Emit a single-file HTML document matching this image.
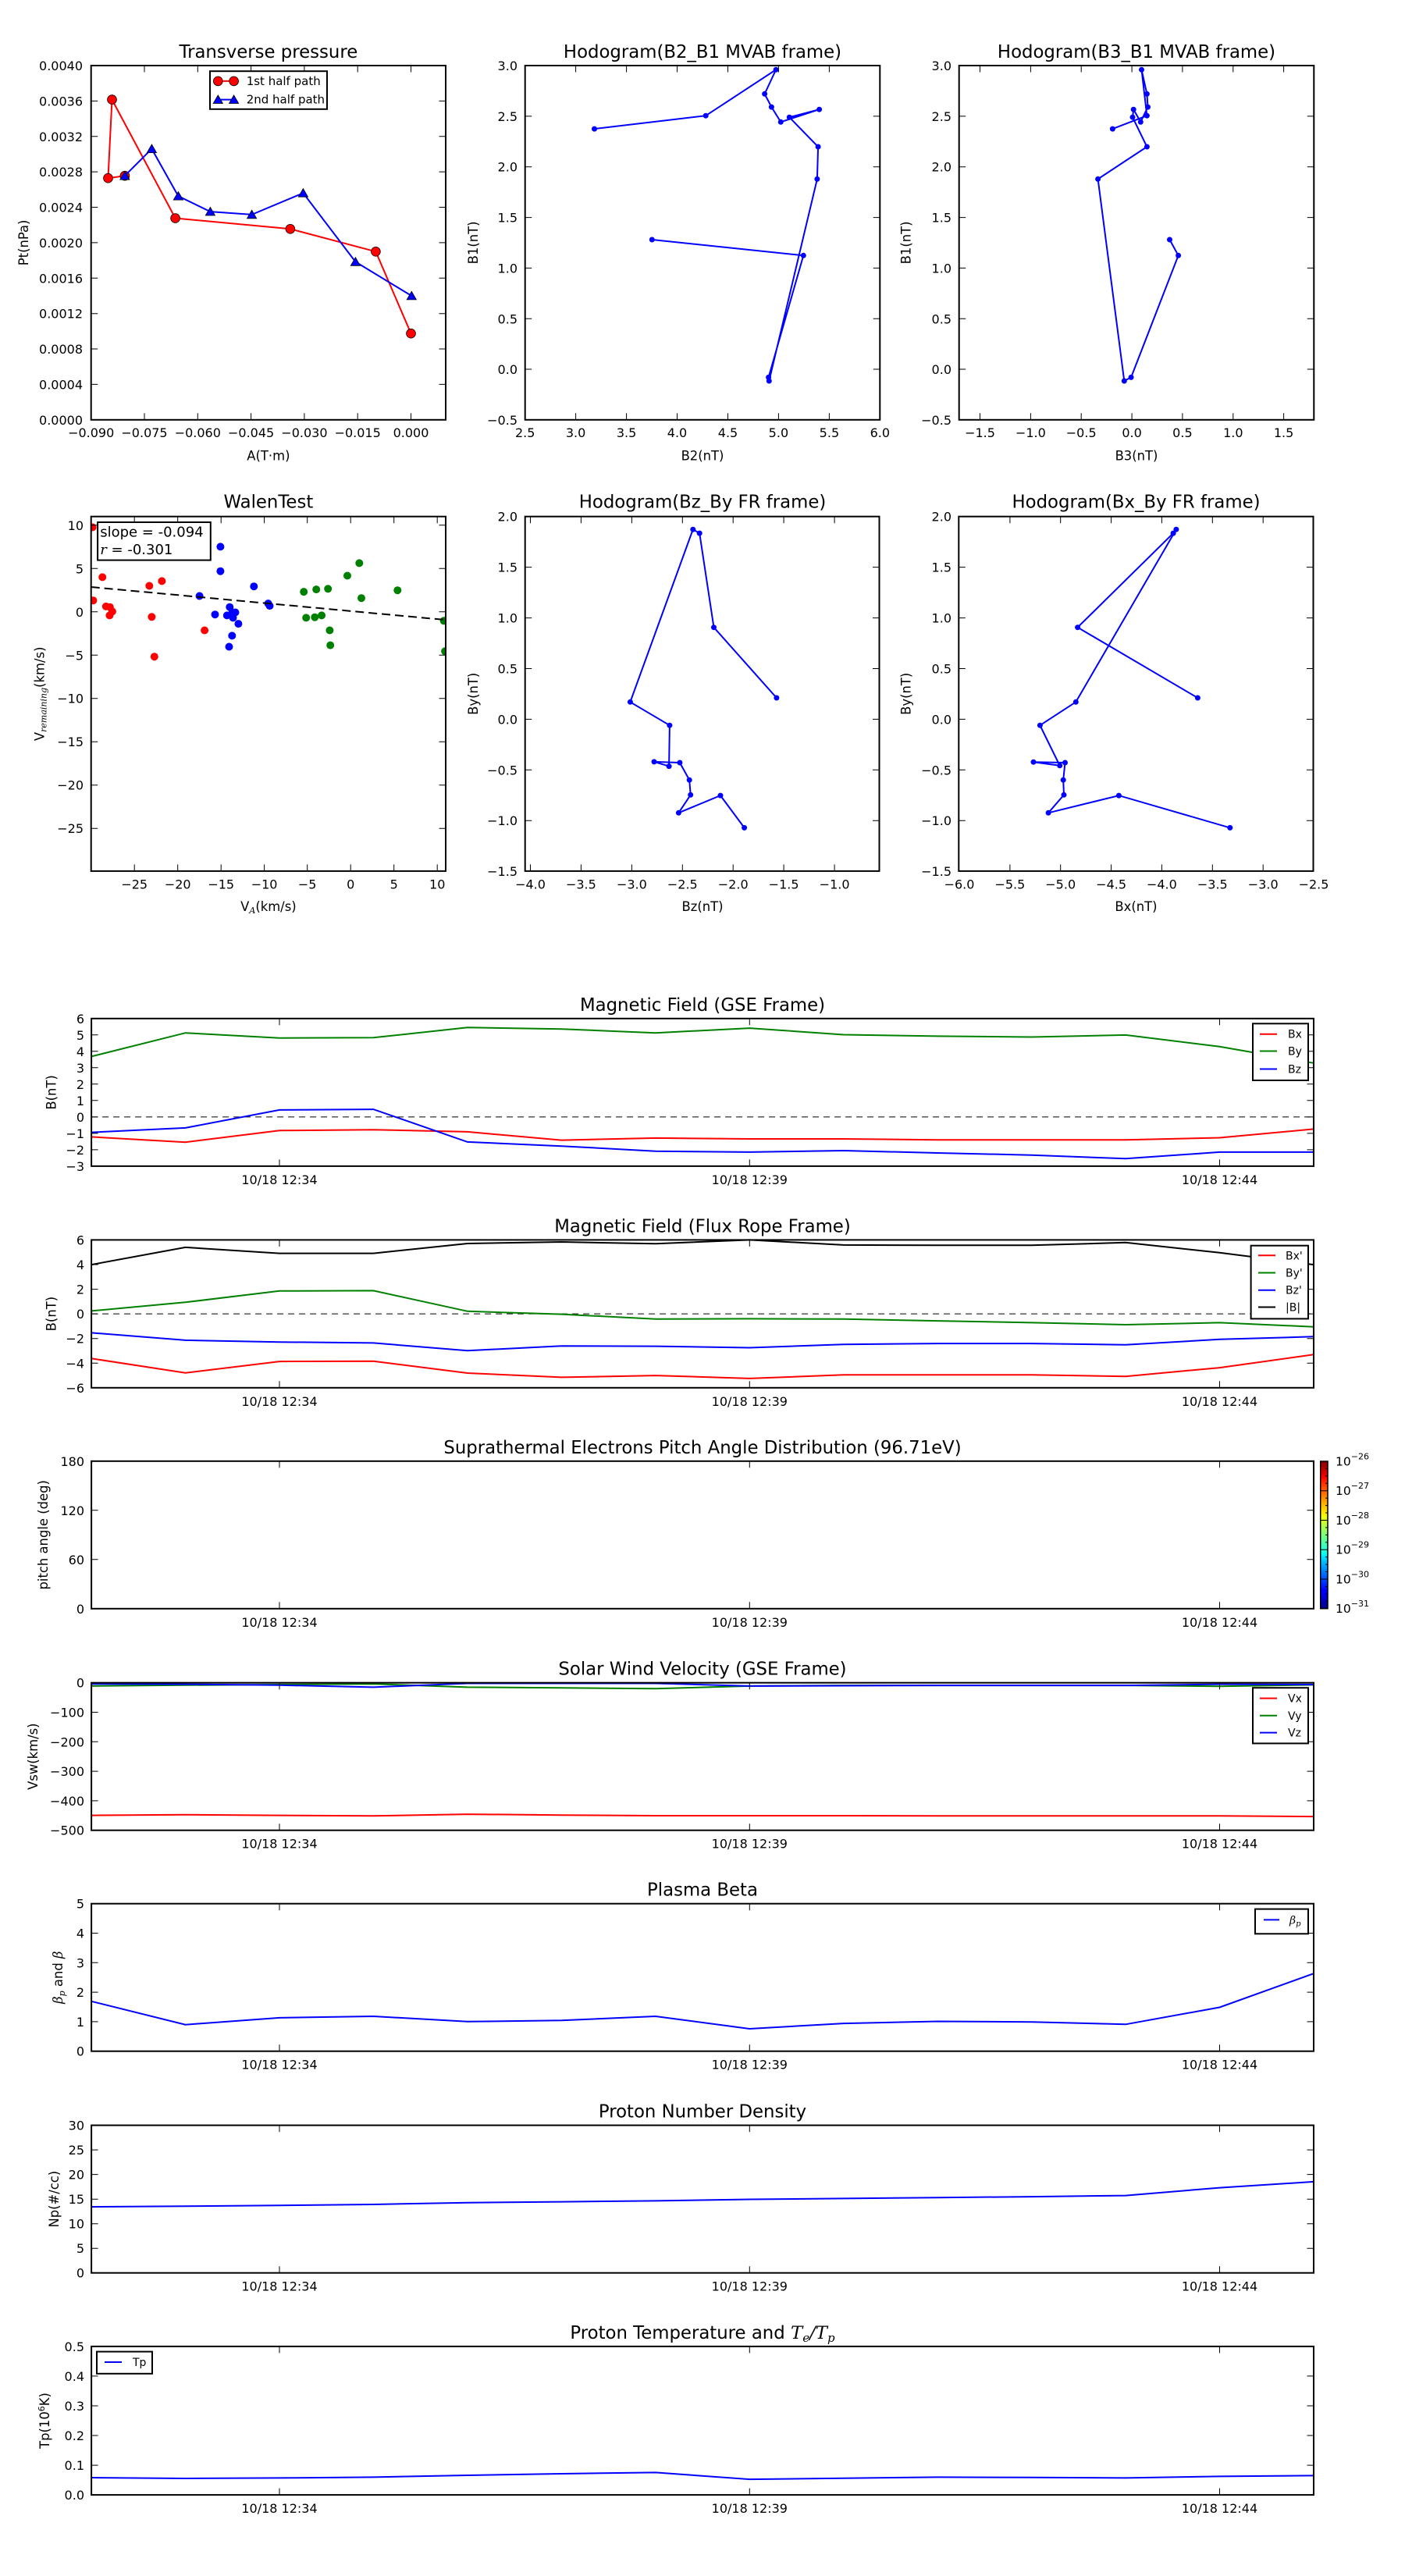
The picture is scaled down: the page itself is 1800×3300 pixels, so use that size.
<!DOCTYPE html>
<html><head><meta charset="utf-8"><style>
html,body{margin:0;padding:0;background:#fff;}
svg{display:block;}
text{font-family:"DejaVu Sans","Liberation Sans",sans-serif;fill:#000;}
.ax{fill:none;stroke:#000;stroke-width:2;}
.tk{fill:none;stroke:#000;stroke-width:1;}
.tl{font-size:16px;}
.m{text-anchor:middle;}
.e{text-anchor:end;}
.tt{font-size:22.8px;text-anchor:middle;}
.lb{font-size:16.4px;text-anchor:middle;}
.lg{font-size:14px;}
.mi{font-family:"DejaVu Serif","Liberation Serif",serif;font-style:italic;}
</style></head><body>
<svg width="1800" height="3300" viewBox="0 0 1800 3300" xmlns="http://www.w3.org/2000/svg">
<defs>
<marker id="rc" markerUnits="userSpaceOnUse" markerWidth="14" markerHeight="14" refX="7" refY="7"><circle cx="7" cy="7" r="5.9" fill="#ff0000" stroke="#000" stroke-width="0.8"/></marker>
<marker id="bt" markerUnits="userSpaceOnUse" markerWidth="14" markerHeight="14" refX="7" refY="7"><path d="M7 1.3L13.1 11.9L0.9 11.9Z" fill="#0000ff" stroke="#000" stroke-width="0.8"/></marker>
<marker id="bd" markerUnits="userSpaceOnUse" markerWidth="8" markerHeight="8" refX="4" refY="4"><circle cx="4" cy="4" r="3.5" fill="#0000ff"/></marker>
<clipPath id="cw"><rect x="116.7" y="661.7" width="454.3" height="454.2"/></clipPath>
<linearGradient id="jet" x1="0" y1="1" x2="0" y2="0">
<stop offset="0" stop-color="#000080"/><stop offset="0.11" stop-color="#0000ff"/><stop offset="0.125" stop-color="#0000ff"/><stop offset="0.35" stop-color="#00e0ff"/><stop offset="0.375" stop-color="#10ffee"/><stop offset="0.5" stop-color="#7dff7a"/><stop offset="0.625" stop-color="#eeff10"/><stop offset="0.66" stop-color="#ffe000"/><stop offset="0.875" stop-color="#ff1800"/><stop offset="0.89" stop-color="#ff0000"/><stop offset="1" stop-color="#800000"/>
</linearGradient>
</defs>
<rect width="1800" height="3300" fill="#fff"/>

<!-- ===== Panel 1: Transverse pressure ===== -->
<text class="tt" x="343.9" y="74">Transverse pressure</text>
<polyline points="159.9,225.2 138.5,228.2 143.5,127.6 224.6,279.5 371.9,293.3 481.4,322.3 526.5,427.2" fill="none" stroke="#ff0000" stroke-width="2" marker-start="url(#rc)" marker-mid="url(#rc)" marker-end="url(#rc)"/>
<polyline points="159.9,225.2 194.4,190.7 228.4,251.2 269.4,271.1 322.6,274.9 388.4,247.3 455.4,335.4 527.3,379.0" fill="none" stroke="#0000ff" stroke-width="2" marker-start="url(#bt)" marker-mid="url(#bt)" marker-end="url(#bt)"/>
<path class="tk" d="M116.7 537.8v-8.5M185 537.8v-8.5M253.3 537.8v-8.5M321.6 537.8v-8.5M389.9 537.8v-8.5M458.2 537.8v-8.5M526.5 537.8v-8.5M116.7 84v8.5M185 84v8.5M253.3 84v8.5M321.6 84v8.5M389.9 84v8.5M458.2 84v8.5M526.5 84v8.5M116.7 492.4h8.5M571 492.4h-8.5M116.7 447h8.5M571 447h-8.5M116.7 401.7h8.5M571 401.7h-8.5M116.7 356.3h8.5M571 356.3h-8.5M116.7 310.9h8.5M571 310.9h-8.5M116.7 265.5h8.5M571 265.5h-8.5M116.7 220.1h8.5M571 220.1h-8.5M116.7 174.8h8.5M571 174.8h-8.5M116.7 129.4h8.5M571 129.4h-8.5"/>
<rect class="ax" x="116.7" y="84" width="454.3" height="453.8"/>
<rect x="269" y="91.2" width="150" height="48.6" fill="#fff" stroke="#000" stroke-width="2"/>
<polyline points="279.3,103.9 299.6,103.9" fill="none" stroke="#ff0000" stroke-width="2" marker-start="url(#rc)" marker-end="url(#rc)"/>
<polyline points="279.3,127.6 299.6,127.6" fill="none" stroke="#0000ff" stroke-width="2" marker-start="url(#bt)" marker-end="url(#bt)"/>
<text x="315.7" y="109.2" style="font-size:15px">1st half path</text>
<text x="315.7" y="132.6" style="font-size:15px">2nd half path</text>
<g class="tl m">
<text x="116.7" y="560">−0.090</text><text x="185" y="560">−0.075</text><text x="253.3" y="560">−0.060</text><text x="321.6" y="560">−0.045</text><text x="389.9" y="560">−0.030</text><text x="458.2" y="560">−0.015</text><text x="526.5" y="560">0.000</text>
</g>
<g class="tl e">
<text x="106" y="543.8">0.0000</text><text x="106" y="498.4">0.0004</text><text x="106" y="453">0.0008</text><text x="106" y="407.7">0.0012</text><text x="106" y="362.3">0.0016</text><text x="106" y="316.9">0.0020</text><text x="106" y="271.5">0.0024</text><text x="106" y="226.1">0.0028</text><text x="106" y="180.8">0.0032</text><text x="106" y="135.4">0.0036</text><text x="106" y="90">0.0040</text>
</g>
<text class="lb" transform="translate(36,310.9) rotate(-90)">Pt(nPa)</text>
<text class="lb" x="343.9" y="589.4">A(T·m)</text>

<!-- ===== Panel 2: Hodogram B2_B1 ===== -->
<text class="tt" x="900" y="74">Hodogram(B2_B1 MVAB frame)</text>
<polyline points="761.5,165.1 904.2,148.2 994.1,89.3 979.6,120.3 988.4,137.1 1000.3,156.3 1049.6,140.2 1011.3,150.2 1048.1,188.0 1046.9,229.4 985.3,488.0 984.6,483.4 1029.3,327.3 835.3,307.0" fill="none" stroke="#0000ff" stroke-width="2" marker-start="url(#bd)" marker-mid="url(#bd)" marker-end="url(#bd)"/>
<path class="tk" d="M672.7 537.8v-8.5M737.6 537.8v-8.5M802.6 537.8v-8.5M867.5 537.8v-8.5M932.5 537.8v-8.5M997.4 537.8v-8.5M1062.4 537.8v-8.5M737.6 84v8.5M802.6 84v8.5M867.5 84v8.5M932.5 84v8.5M997.4 84v8.5M1062.4 84v8.5M672.7 148.9h8.5M1127.3 148.9h-8.5M672.7 213.7h8.5M1127.3 213.7h-8.5M672.7 278.6h8.5M1127.3 278.6h-8.5M672.7 343.4h8.5M1127.3 343.4h-8.5M672.7 408.3h8.5M1127.3 408.3h-8.5M672.7 473h8.5M1127.3 473h-8.5"/>
<rect class="ax" x="672.7" y="84" width="454.6" height="453.8"/>
<g class="tl m">
<text x="672.7" y="560">2.5</text><text x="737.6" y="560">3.0</text><text x="802.6" y="560">3.5</text><text x="867.5" y="560">4.0</text><text x="932.5" y="560">4.5</text><text x="997.4" y="560">5.0</text><text x="1062.4" y="560">5.5</text><text x="1127.3" y="560">6.0</text>
</g>
<g class="tl e">
<text x="663" y="90">3.0</text><text x="663" y="154.9">2.5</text><text x="663" y="219.7">2.0</text><text x="663" y="284.6">1.5</text><text x="663" y="349.4">1.0</text><text x="663" y="414.3">0.5</text><text x="663" y="479">0.0</text><text x="663" y="543.8">−0.5</text>
</g>
<text class="lb" transform="translate(612,310.9) rotate(-90)">B1(nT)</text>
<text class="lb" x="900" y="589.4">B2(nT)</text>

<!-- ===== Panel 3: Hodogram B3_B1 ===== -->
<text class="tt" x="1456" y="74">Hodogram(B3_B1 MVAB frame)</text>
<polyline points="1425.4,165.1 1469.4,148.2 1462.5,89.3 1469.4,120.3 1470.5,137.1 1461.3,156.3 1452.2,140.2 1451.0,150.2 1469.4,188.0 1406.6,229.4 1440.3,488.0 1449.1,483.4 1509.6,327.3 1498.5,307.0" fill="none" stroke="#0000ff" stroke-width="2" marker-start="url(#bd)" marker-mid="url(#bd)" marker-end="url(#bd)"/>
<path class="tk" d="M1255.5 537.8v-8.5M1320.4 537.8v-8.5M1385.2 537.8v-8.5M1450.1 537.8v-8.5M1514.9 537.8v-8.5M1579.8 537.8v-8.5M1644.6 537.8v-8.5M1255.5 84v8.5M1320.4 84v8.5M1385.2 84v8.5M1450.1 84v8.5M1514.9 84v8.5M1579.8 84v8.5M1644.6 84v8.5M1228.7 148.9h8.5M1683.3 148.9h-8.5M1228.7 213.7h8.5M1683.3 213.7h-8.5M1228.7 278.6h8.5M1683.3 278.6h-8.5M1228.7 343.4h8.5M1683.3 343.4h-8.5M1228.7 408.3h8.5M1683.3 408.3h-8.5M1228.7 473h8.5M1683.3 473h-8.5"/>
<rect class="ax" x="1228.7" y="84" width="454.6" height="453.8"/>
<g class="tl m">
<text x="1255.5" y="560">−1.5</text><text x="1320.4" y="560">−1.0</text><text x="1385.2" y="560">−0.5</text><text x="1450.1" y="560">0.0</text><text x="1514.9" y="560">0.5</text><text x="1579.8" y="560">1.0</text><text x="1644.6" y="560">1.5</text>
</g>
<g class="tl e">
<text x="1219" y="90">3.0</text><text x="1219" y="154.9">2.5</text><text x="1219" y="219.7">2.0</text><text x="1219" y="284.6">1.5</text><text x="1219" y="349.4">1.0</text><text x="1219" y="414.3">0.5</text><text x="1219" y="479">0.0</text><text x="1219" y="543.8">−0.5</text>
</g>
<text class="lb" transform="translate(1166.5,310.9) rotate(-90)">B1(nT)</text>
<text class="lb" x="1456" y="589.4">B3(nT)</text>

<!-- ===== Panel 4: WalenTest ===== -->
<text class="tt" x="343.9" y="650.6">WalenTest</text>
<g clip-path="url(#cw)">
<g fill="#ff0000">
<circle cx="118.6" cy="675.5" r="5"/><circle cx="119.4" cy="769.2" r="5"/><circle cx="131.2" cy="739.4" r="5"/><circle cx="135.8" cy="776.9" r="5"/><circle cx="140.8" cy="777.7" r="5"/><circle cx="143.9" cy="783.4" r="5"/><circle cx="140.4" cy="788.4" r="5"/><circle cx="191.3" cy="750.5" r="5"/><circle cx="194.4" cy="790.3" r="5"/><circle cx="197.8" cy="841.2" r="5"/><circle cx="207.4" cy="744.4" r="5"/><circle cx="262.1" cy="807.5" r="5"/>
</g>
<g fill="#0000ff">
<circle cx="282.4" cy="700.4" r="5"/><circle cx="282.4" cy="731.7" r="5"/><circle cx="255.6" cy="763.5" r="5"/><circle cx="275.5" cy="787.2" r="5"/><circle cx="294.3" cy="777.7" r="5"/><circle cx="290.8" cy="788.4" r="5"/><circle cx="297.7" cy="784.5" r="5"/><circle cx="301.5" cy="784.5" r="5"/><circle cx="298.5" cy="791.4" r="5"/><circle cx="305.4" cy="799.1" r="5"/><circle cx="297.3" cy="814.4" r="5"/><circle cx="293.5" cy="828.5" r="5"/><circle cx="325.3" cy="751.2" r="5"/><circle cx="343.6" cy="773.1" r="5"/><circle cx="345.5" cy="776.1" r="5"/>
</g>
<g fill="#008000">
<circle cx="389.2" cy="758.1" r="5"/><circle cx="405.2" cy="755.1" r="5"/><circle cx="420.2" cy="754.3" r="5"/><circle cx="445" cy="737.5" r="5"/><circle cx="460.3" cy="721.4" r="5"/><circle cx="463" cy="766.2" r="5"/><circle cx="509.3" cy="756.2" r="5"/><circle cx="392.2" cy="791.4" r="5"/><circle cx="403.3" cy="790.7" r="5"/><circle cx="412.1" cy="788.4" r="5"/><circle cx="422.4" cy="807.5" r="5"/><circle cx="423.2" cy="826.6" r="5"/><circle cx="568.6" cy="795.3" r="5"/><circle cx="570.1" cy="834.3" r="5"/>
</g>
<line x1="116.7" y1="752" x2="571" y2="794.1" stroke="#000" stroke-width="2" stroke-dasharray="11,6"/>
</g>
<path class="tk" d="M172.2 1115.9v-8.5M227.7 1115.9v-8.5M283.2 1115.9v-8.5M338.6 1115.9v-8.5M393.7 1115.9v-8.5M449.2 1115.9v-8.5M504.7 1115.9v-8.5M560.2 1115.9v-8.5M172.2 661.7v8.5M227.7 661.7v8.5M283.2 661.7v8.5M338.6 661.7v8.5M393.7 661.7v8.5M449.2 661.7v8.5M504.7 661.7v8.5M560.2 661.7v8.5M116.7 672.8h8.5M571 672.8h-8.5M116.7 728.3h8.5M571 728.3h-8.5M116.7 783.8h8.5M571 783.8h-8.5M116.7 839.3h8.5M571 839.3h-8.5M116.7 894.7h8.5M571 894.7h-8.5M116.7 950.2h8.5M571 950.2h-8.5M116.7 1005.7h8.5M571 1005.7h-8.5M116.7 1061.2h8.5M571 1061.2h-8.5"/>
<rect class="ax" x="116.7" y="661.7" width="454.3" height="454.2"/>
<rect x="125.1" y="669" width="144.7" height="48.6" fill="#fff" stroke="#000" stroke-width="2"/>
<text x="128.2" y="687.7" style="font-size:18px">slope = -0.094</text>
<text x="128.2" y="709.9" style="font-size:18px"><tspan class="mi">r</tspan> = -0.301</text>
<g class="tl m">
<text x="172.2" y="1138.5">−25</text><text x="227.7" y="1138.5">−20</text><text x="283.2" y="1138.5">−15</text><text x="338.6" y="1138.5">−10</text><text x="393.7" y="1138.5">−5</text><text x="449.2" y="1138.5">0</text><text x="504.7" y="1138.5">5</text><text x="560.2" y="1138.5">10</text>
</g>
<g class="tl e">
<text x="107" y="678.8">10</text><text x="107" y="734.3">5</text><text x="107" y="789.8">0</text><text x="107" y="845.3">−5</text><text x="107" y="900.7">−10</text><text x="107" y="956.2">−15</text><text x="107" y="1011.7">−20</text><text x="107" y="1067.2">−25</text>
</g>
<text class="lb" transform="translate(56.6,888.8) rotate(-90)">V<tspan class="mi" style="font-size:11px" dy="3">remaining</tspan><tspan dy="-3">(km/s)</tspan></text>
<text class="lb" x="343.9" y="1167.2">V<tspan class="mi" style="font-size:11px" dy="3">A</tspan><tspan dy="-3">(km/s)</tspan></text>

<!-- ===== Panel 5: Hodogram Bz_By FR ===== -->
<text class="tt" x="900" y="650.6">Hodogram(Bz_By FR frame)</text>
<polyline points="994.9,894.0 914.5,803.7 896.2,683.1 887.8,678.2 807.4,899.3 857.9,929.2 857.1,981.6 838.0,975.9 870.9,977.0 883.2,999.2 884.7,1018.3 869.4,1041.3 923.0,1019.1 953.6,1060.4" fill="none" stroke="#0000ff" stroke-width="2" marker-start="url(#bd)" marker-mid="url(#bd)" marker-end="url(#bd)"/>
<path class="tk" d="M679.5 1115.9v-8.5M744.4 1115.9v-8.5M809.4 1115.9v-8.5M874.3 1115.9v-8.5M939.2 1115.9v-8.5M1004.1 1115.9v-8.5M1069.1 1115.9v-8.5M679.5 661.7v8.5M744.4 661.7v8.5M809.4 661.7v8.5M874.3 661.7v8.5M939.2 661.7v8.5M1004.1 661.7v8.5M1069.1 661.7v8.5M672.7 726.6h8.5M1126.5 726.6h-8.5M672.7 791.6h8.5M1126.5 791.6h-8.5M672.7 856.5h8.5M1126.5 856.5h-8.5M672.7 921.4h8.5M1126.5 921.4h-8.5M672.7 986.3h8.5M1126.5 986.3h-8.5M672.7 1051.2h8.5M1126.5 1051.2h-8.5"/>
<rect class="ax" x="672.7" y="661.7" width="453.8" height="454.2"/>
<g class="tl m">
<text x="679.5" y="1138.5">−4.0</text><text x="744.4" y="1138.5">−3.5</text><text x="809.4" y="1138.5">−3.0</text><text x="874.3" y="1138.5">−2.5</text><text x="939.2" y="1138.5">−2.0</text><text x="1004.1" y="1138.5">−1.5</text><text x="1069.1" y="1138.5">−1.0</text>
</g>
<g class="tl e">
<text x="663" y="667.7">2.0</text><text x="663" y="732.6">1.5</text><text x="663" y="797.6">1.0</text><text x="663" y="862.5">0.5</text><text x="663" y="927.4">0.0</text><text x="663" y="992.3">−0.5</text><text x="663" y="1057.2">−1.0</text><text x="663" y="1122">−1.5</text>
</g>
<text class="lb" transform="translate(612,888.8) rotate(-90)">By(nT)</text>
<text class="lb" x="900" y="1167.2">Bz(nT)</text>

<!-- ===== Panel 6: Hodogram Bx_By FR ===== -->
<text class="tt" x="1455.5" y="650.6">Hodogram(Bx_By FR frame)</text>
<polyline points="1534.4,894.0 1380.6,803.7 1503.1,683.1 1506.9,678.2 1378.3,899.3 1332.4,929.2 1357.7,980.8 1324.0,976.2 1364.5,977.0 1362.2,999.2 1363.0,1018.3 1343.1,1041.3 1433.4,1019.1 1575.8,1060.4" fill="none" stroke="#0000ff" stroke-width="2" marker-start="url(#bd)" marker-mid="url(#bd)" marker-end="url(#bd)"/>
<path class="tk" d="M1293.9 1115.9v-8.5M1358.7 1115.9v-8.5M1423.6 1115.9v-8.5M1488.4 1115.9v-8.5M1553.3 1115.9v-8.5M1618.2 1115.9v-8.5M1293.9 661.7v8.5M1358.7 661.7v8.5M1423.6 661.7v8.5M1488.4 661.7v8.5M1553.3 661.7v8.5M1618.2 661.7v8.5M1228.3 726.6h8.5M1682.5 726.6h-8.5M1228.3 791.6h8.5M1682.5 791.6h-8.5M1228.3 856.5h8.5M1682.5 856.5h-8.5M1228.3 921.4h8.5M1682.5 921.4h-8.5M1228.3 986.3h8.5M1682.5 986.3h-8.5M1228.3 1051.2h8.5M1682.5 1051.2h-8.5"/>
<rect class="ax" x="1228.3" y="661.7" width="454.2" height="454.2"/>
<g class="tl m">
<text x="1229" y="1138.5">−6.0</text><text x="1293.9" y="1138.5">−5.5</text><text x="1358.7" y="1138.5">−5.0</text><text x="1423.6" y="1138.5">−4.5</text><text x="1488.4" y="1138.5">−4.0</text><text x="1553.3" y="1138.5">−3.5</text><text x="1618.2" y="1138.5">−3.0</text><text x="1683" y="1138.5">−2.5</text>
</g>
<g class="tl e">
<text x="1219" y="667.7">2.0</text><text x="1219" y="732.6">1.5</text><text x="1219" y="797.6">1.0</text><text x="1219" y="862.5">0.5</text><text x="1219" y="927.4">0.0</text><text x="1219" y="992.3">−0.5</text><text x="1219" y="1057.2">−1.0</text><text x="1219" y="1122">−1.5</text>
</g>
<text class="lb" transform="translate(1166.5,888.8) rotate(-90)">By(nT)</text>
<text class="lb" x="1455.5" y="1167.2">Bx(nT)</text>

<!-- ===== TS1: Magnetic Field GSE ===== -->
<text class="tt" x="900" y="1294.8">Magnetic Field (GSE Frame)</text>
<line x1="117.1" y1="1430.9" x2="1683" y2="1430.9" stroke="#000" stroke-width="1" stroke-dasharray="8,6"/>
<polyline fill="none" stroke="#ff0000" stroke-width="2" points="117.1,1456.4 237.5,1463.2 358.0,1448.3 478.4,1447.2 598.9,1449.9 719.4,1460.6 839.8,1457.9 960.3,1459.0 1080.7,1459.0 1201.2,1460.2 1321.6,1460.2 1442.1,1460.2 1562.5,1457.5 1683.0,1446.4"/>
<polyline fill="none" stroke="#008000" stroke-width="2" points="117.1,1353.4 237.5,1323.2 358.0,1329.7 478.4,1329.3 598.9,1316.3 719.4,1318.2 839.8,1323.2 960.3,1317.1 1080.7,1325.5 1201.2,1327.4 1321.6,1328.5 1442.1,1325.9 1562.5,1340.8 1683.0,1361.8"/>
<polyline fill="none" stroke="#0000ff" stroke-width="2" points="117.1,1450.6 237.5,1444.9 358.0,1421.9 478.4,1421.1 598.9,1462.9 719.4,1468.2 839.8,1474.7 960.3,1475.9 1080.7,1474.0 1201.2,1477.0 1321.6,1479.7 1442.1,1484.3 1562.5,1475.9 1683.0,1475.9"/>
<path class="tk" d="M358 1493.9v-8.5M960.3 1493.9v-8.5M1562.5 1493.9v-8.5M358 1304.8v8.5M960.3 1304.8v8.5M1562.5 1304.8v8.5M117.1 1325.8h8.5M1683 1325.8h-8.5M117.1 1346.8h8.5M1683 1346.8h-8.5M117.1 1367.8h8.5M1683 1367.8h-8.5M117.1 1388.8h8.5M1683 1388.8h-8.5M117.1 1409.8h8.5M1683 1409.8h-8.5M117.1 1430.9h8.5M1683 1430.9h-8.5M117.1 1451.9h8.5M1683 1451.9h-8.5M117.1 1472.9h8.5M1683 1472.9h-8.5"/>
<rect class="ax" x="117.1" y="1304.8" width="1565.9" height="189.1"/>
<rect x="1605" y="1311.3" width="71" height="72.7" fill="#fff" stroke="#000" stroke-width="2"/>
<line x1="1614" y1="1324.7" x2="1636" y2="1324.7" stroke="#ff0000" stroke-width="2"/>
<line x1="1614" y1="1346.5" x2="1636" y2="1346.5" stroke="#008000" stroke-width="2"/>
<line x1="1614" y1="1369.5" x2="1636" y2="1369.5" stroke="#0000ff" stroke-width="2"/>
<text class="lg" x="1650" y="1329.7">Bx</text><text class="lg" x="1650" y="1351.5">By</text><text class="lg" x="1650" y="1374.5">Bz</text>
<g class="tl m"><text x="358" y="1516.9">10/18 12:34</text><text x="960.3" y="1516.9">10/18 12:39</text><text x="1562.5" y="1516.9">10/18 12:44</text></g>
<g class="tl e">
<text x="108" y="1310.8">6</text><text x="108" y="1331.8">5</text><text x="108" y="1352.8">4</text><text x="108" y="1373.8">3</text><text x="108" y="1394.8">2</text><text x="108" y="1415.8">1</text><text x="108" y="1436.9">0</text><text x="108" y="1457.9">−1</text><text x="108" y="1478.9">−2</text><text x="108" y="1499.9">−3</text>
</g>
<text class="lb" transform="translate(71.5,1399.4) rotate(-90)">B(nT)</text>

<!-- ===== TS2: Magnetic Field Flux Rope ===== -->
<text class="tt" x="900" y="1578.4">Magnetic Field (Flux Rope Frame)</text>
<line x1="117.1" y1="1683.1" x2="1683" y2="1683.1" stroke="#000" stroke-width="1" stroke-dasharray="8,6"/>
<polyline fill="none" stroke="#ff0000" stroke-width="2" points="117.1,1740.3 237.5,1758.7 358.0,1744.1 478.4,1743.7 598.9,1759.0 719.4,1764.4 839.8,1762.1 960.3,1765.9 1080.7,1761.3 1201.2,1761.3 1321.6,1761.3 1442.1,1763.2 1562.5,1752.1 1683.0,1735.3"/>
<polyline fill="none" stroke="#008000" stroke-width="2" points="117.1,1679.4 237.5,1668.3 358.0,1653.8 478.4,1653.4 598.9,1679.8 719.4,1683.6 839.8,1689.8 960.3,1689.4 1080.7,1689.8 1201.2,1692.1 1321.6,1694.4 1442.1,1697.0 1562.5,1694.4 1683.0,1699.7"/>
<polyline fill="none" stroke="#0000ff" stroke-width="2" points="117.1,1707.4 237.5,1716.9 358.0,1719.2 478.4,1720.4 598.9,1730.3 719.4,1724.2 839.8,1724.6 960.3,1726.5 1080.7,1722.3 1201.2,1721.1 1321.6,1721.1 1442.1,1722.7 1562.5,1715.8 1683.0,1712.3"/>
<polyline fill="none" stroke="#000" stroke-width="2" points="117.1,1620.1 237.5,1597.9 358.0,1605.6 478.4,1605.6 598.9,1593.0 719.4,1591.0 839.8,1593.3 960.3,1588.4 1080.7,1594.9 1201.2,1595.3 1321.6,1595.3 1442.1,1591.8 1562.5,1604.8 1683.0,1620.1"/>
<path class="tk" d="M358 1777.8v-8.5M960.3 1777.8v-8.5M1562.5 1777.8v-8.5M358 1588.4v8.5M960.3 1588.4v8.5M1562.5 1588.4v8.5M117.1 1620h8.5M1683 1620h-8.5M117.1 1651.6h8.5M1683 1651.6h-8.5M117.1 1683.1h8.5M1683 1683.1h-8.5M117.1 1714.7h8.5M1683 1714.7h-8.5M117.1 1746.3h8.5M1683 1746.3h-8.5"/>
<rect class="ax" x="117.1" y="1588.4" width="1565.9" height="189.4"/>
<rect x="1602.6" y="1595.7" width="73.4" height="93.7" fill="#fff" stroke="#000" stroke-width="2"/>
<line x1="1612" y1="1608.3" x2="1634" y2="1608.3" stroke="#ff0000" stroke-width="2"/>
<line x1="1612" y1="1630.5" x2="1634" y2="1630.5" stroke="#008000" stroke-width="2"/>
<line x1="1612" y1="1652.7" x2="1634" y2="1652.7" stroke="#0000ff" stroke-width="2"/>
<line x1="1612" y1="1674.5" x2="1634" y2="1674.5" stroke="#000" stroke-width="2"/>
<text class="lg" x="1647" y="1613.3">Bx'</text><text class="lg" x="1647" y="1635.5">By'</text><text class="lg" x="1647" y="1657.7">Bz'</text><text class="lg" x="1647" y="1679.5">|B|</text>
<g class="tl m"><text x="358" y="1800.8">10/18 12:34</text><text x="960.3" y="1800.8">10/18 12:39</text><text x="1562.5" y="1800.8">10/18 12:44</text></g>
<g class="tl e">
<text x="108" y="1594.4">6</text><text x="108" y="1626">4</text><text x="108" y="1657.6">2</text><text x="108" y="1689.1">0</text><text x="108" y="1720.7">−2</text><text x="108" y="1752.3">−4</text><text x="108" y="1783.8">−6</text>
</g>
<text class="lb" transform="translate(71.5,1683.1) rotate(-90)">B(nT)</text>

<!-- ===== TS3: Suprathermal ===== -->
<text class="tt" x="900" y="1861.8">Suprathermal Electrons Pitch Angle Distribution (96.71eV)</text>
<path class="tk" d="M358 2060.8v-8.5M960.3 2060.8v-8.5M1562.5 2060.8v-8.5M358 1871.8v8.5M960.3 1871.8v8.5M1562.5 1871.8v8.5M117.1 1934.8h8.5M1683 1934.8h-8.5M117.1 1997.8h8.5M1683 1997.8h-8.5"/>
<rect class="ax" x="117.1" y="1871.8" width="1565.9" height="189"/>
<rect x="1691.7" y="1872" width="9.3" height="188.7" fill="url(#jet)"/>
<path class="tk" d="M1691.7 1909.7h9.3M1691.7 1947.5h9.3M1691.7 1985.2h9.3M1691.7 2023h9.3M1698 1881.4h3M1698 1890.9h3M1698 1900.3h3M1698 1919.1h3M1698 1928.6h3M1698 1938h3M1698 1956.9h3M1698 1966.3h3M1698 1975.8h3M1698 1994.6h3M1698 2004.1h3M1698 2013.5h3M1698 2032.4h3M1698 2041.8h3M1698 2051.3h3"/>
<rect x="1691.7" y="1872" width="9.3" height="188.7" fill="none" stroke="#000" stroke-width="1.5"/>
<g style="font-size:15.5px">
<text x="1711" y="1877.5">10<tspan dy="-8" style="font-size:11px">−26</tspan></text>
<text x="1711" y="1915.2">10<tspan dy="-8" style="font-size:11px">−27</tspan></text>
<text x="1711" y="1953">10<tspan dy="-8" style="font-size:11px">−28</tspan></text>
<text x="1711" y="1990.7">10<tspan dy="-8" style="font-size:11px">−29</tspan></text>
<text x="1711" y="2028.5">10<tspan dy="-8" style="font-size:11px">−30</tspan></text>
<text x="1711" y="2066.2">10<tspan dy="-8" style="font-size:11px">−31</tspan></text>
</g>
<g class="tl m"><text x="358" y="2083.8">10/18 12:34</text><text x="960.3" y="2083.8">10/18 12:39</text><text x="1562.5" y="2083.8">10/18 12:44</text></g>
<g class="tl e">
<text x="108" y="1877.8">180</text><text x="108" y="1940.8">120</text><text x="108" y="2003.8">60</text><text x="108" y="2066.8">0</text>
</g>
<text class="lb" transform="translate(61,1966.3) rotate(-90)">pitch angle (deg)</text>

<!-- ===== TS4: Solar Wind Velocity ===== -->
<text class="tt" x="900" y="2145.7">Solar Wind Velocity (GSE Frame)</text>
<polyline fill="none" stroke="#ff0000" stroke-width="2" points="117.1,2325.6 237.5,2324.8 358.0,2325.6 478.4,2326.3 598.9,2324.1 719.4,2325.2 839.8,2326.0 960.3,2326.0 1080.7,2326.0 1201.2,2326.3 1321.6,2326.3 1442.1,2326.3 1562.5,2326.3 1683.0,2327.1"/>
<polyline fill="none" stroke="#008000" stroke-width="2" points="117.1,2159.9 237.5,2158.8 358.0,2158.0 478.4,2157.2 598.9,2161.4 719.4,2162.2 839.8,2163.3 960.3,2159.9 1080.7,2159.1 1201.2,2159.1 1321.6,2159.1 1442.1,2159.1 1562.5,2160.3 1683.0,2158.4"/>
<polyline fill="none" stroke="#0000ff" stroke-width="2" points="117.1,2157.2 237.5,2157.6 358.0,2158.8 478.4,2161.4 598.9,2156.5 719.4,2156.5 839.8,2156.5 960.3,2159.9 1080.7,2159.5 1201.2,2159.1 1321.6,2159.1 1442.1,2159.1 1562.5,2157.6 1683.0,2158.0"/>
<path class="tk" d="M358 2344.7v-8.5M960.3 2344.7v-8.5M1562.5 2344.7v-8.5M358 2155.7v8.5M960.3 2155.7v8.5M1562.5 2155.7v8.5M117.1 2193.5h8.5M1683 2193.5h-8.5M117.1 2231.3h8.5M1683 2231.3h-8.5M117.1 2269.1h8.5M1683 2269.1h-8.5M117.1 2306.9h8.5M1683 2306.9h-8.5"/>
<rect class="ax" x="117.1" y="2155.7" width="1565.9" height="189"/>
<rect x="1605" y="2162.2" width="71" height="71.2" fill="#fff" stroke="#000" stroke-width="2"/>
<line x1="1614" y1="2175.6" x2="1636" y2="2175.6" stroke="#ff0000" stroke-width="2"/>
<line x1="1614" y1="2197.8" x2="1636" y2="2197.8" stroke="#008000" stroke-width="2"/>
<line x1="1614" y1="2219.6" x2="1636" y2="2219.6" stroke="#0000ff" stroke-width="2"/>
<text class="lg" x="1650" y="2180.6">Vx</text><text class="lg" x="1650" y="2202.8">Vy</text><text class="lg" x="1650" y="2224.6">Vz</text>
<g class="tl m"><text x="358" y="2367.7">10/18 12:34</text><text x="960.3" y="2367.7">10/18 12:39</text><text x="1562.5" y="2367.7">10/18 12:44</text></g>
<g class="tl e">
<text x="108" y="2161.7">0</text><text x="108" y="2199.5">−100</text><text x="108" y="2237.3">−200</text><text x="108" y="2275.1">−300</text><text x="108" y="2312.9">−400</text><text x="108" y="2350.7">−500</text>
</g>
<text class="lb" transform="translate(48,2250.2) rotate(-90)">Vsw(km/s)</text>

<!-- ===== TS5: Plasma Beta ===== -->
<text class="tt" x="900" y="2428.7">Plasma Beta</text>
<polyline fill="none" stroke="#0000ff" stroke-width="2" points="117.1,2563.8 237.5,2593.7 358.0,2584.9 478.4,2583.0 598.9,2589.8 719.4,2588.3 839.8,2583.0 960.3,2599.0 1080.7,2592.1 1201.2,2589.5 1321.6,2590.2 1442.1,2593.3 1562.5,2571.5 1683.0,2528.2"/>
<path class="tk" d="M358 2627.7v-8.5M960.3 2627.7v-8.5M1562.5 2627.7v-8.5M358 2438.7v8.5M960.3 2438.7v8.5M1562.5 2438.7v8.5M117.1 2476.5h8.5M1683 2476.5h-8.5M117.1 2514.3h8.5M1683 2514.3h-8.5M117.1 2552.1h8.5M1683 2552.1h-8.5M117.1 2589.9h8.5M1683 2589.9h-8.5"/>
<rect class="ax" x="117.1" y="2438.7" width="1565.9" height="189"/>
<rect x="1608" y="2445.6" width="68" height="31.7" fill="#fff" stroke="#000" stroke-width="2"/>
<line x1="1619" y1="2459.4" x2="1639" y2="2459.4" stroke="#0000ff" stroke-width="2"/>
<text x="1652" y="2464.4" style="font-size:14px"><tspan class="mi">β</tspan><tspan class="mi" style="font-size:10px" dy="3">p</tspan></text>
<g class="tl m"><text x="358" y="2650.7">10/18 12:34</text><text x="960.3" y="2650.7">10/18 12:39</text><text x="1562.5" y="2650.7">10/18 12:44</text></g>
<g class="tl e">
<text x="108" y="2444.7">5</text><text x="108" y="2482.5">4</text><text x="108" y="2520.3">3</text><text x="108" y="2558.1">2</text><text x="108" y="2595.9">1</text><text x="108" y="2633.7">0</text>
</g>
<text class="lb" transform="translate(80,2533.2) rotate(-90)"><tspan class="mi">β</tspan><tspan class="mi" style="font-size:11px" dy="3">p</tspan><tspan dy="-3"> and </tspan><tspan class="mi">β</tspan></text>

<!-- ===== TS6: Proton Number Density ===== -->
<text class="tt" x="900" y="2712.6">Proton Number Density</text>
<polyline fill="none" stroke="#0000ff" stroke-width="2" points="117.1,2827.1 237.5,2826.3 358.0,2825.2 478.4,2824.0 598.9,2821.7 719.4,2820.6 839.8,2819.4 960.3,2817.5 1080.7,2816.4 1201.2,2815.2 1321.6,2814.1 1442.1,2812.6 1562.5,2802.6 1683.0,2794.9"/>
<path class="tk" d="M358 2911.7v-8.5M960.3 2911.7v-8.5M1562.5 2911.7v-8.5M358 2722.6v8.5M960.3 2722.6v8.5M1562.5 2722.6v8.5M117.1 2754.1h8.5M1683 2754.1h-8.5M117.1 2785.6h8.5M1683 2785.6h-8.5M117.1 2817.2h8.5M1683 2817.2h-8.5M117.1 2848.7h8.5M1683 2848.7h-8.5M117.1 2880.2h8.5M1683 2880.2h-8.5"/>
<rect class="ax" x="117.1" y="2722.6" width="1565.9" height="189.1"/>
<g class="tl m"><text x="358" y="2934.7">10/18 12:34</text><text x="960.3" y="2934.7">10/18 12:39</text><text x="1562.5" y="2934.7">10/18 12:44</text></g>
<g class="tl e">
<text x="108" y="2728.6">30</text><text x="108" y="2760.1">25</text><text x="108" y="2791.6">20</text><text x="108" y="2823.2">15</text><text x="108" y="2854.7">10</text><text x="108" y="2886.2">5</text><text x="108" y="2917.7">0</text>
</g>
<text class="lb" transform="translate(75,2817.2) rotate(-90)">Np(#/cc)</text>

<!-- ===== TS7: Proton Temperature ===== -->
<text class="tt" x="900" y="2995.9">Proton Temperature and <tspan class="mi">T</tspan><tspan class="mi" style="font-size:15px" dy="4">e</tspan><tspan class="mi" dy="-4">/T</tspan><tspan class="mi" style="font-size:15px" dy="4">p</tspan></text>
<polyline fill="none" stroke="#0000ff" stroke-width="2" points="117.1,3174.0 237.5,3175.0 358.0,3174.4 478.4,3173.4 598.9,3171.0 719.4,3169.0 839.8,3167.4 960.3,3176.1 1080.7,3174.7 1201.2,3173.4 1321.6,3173.7 1442.1,3174.4 1562.5,3172.4 1683.0,3171.4"/>
<path class="tk" d="M358 3196.1v-8.5M960.3 3196.1v-8.5M1562.5 3196.1v-8.5M358 3005.9v8.5M960.3 3005.9v8.5M1562.5 3005.9v8.5M117.1 3043.9h8.5M1683 3043.9h-8.5M117.1 3082h8.5M1683 3082h-8.5M117.1 3120h8.5M1683 3120h-8.5M117.1 3158.1h8.5M1683 3158.1h-8.5"/>
<rect class="ax" x="117.1" y="3005.9" width="1565.9" height="190.2"/>
<rect x="124" y="3012.6" width="71" height="28.2" fill="#fff" stroke="#000" stroke-width="2"/>
<line x1="134" y1="3026" x2="156" y2="3026" stroke="#0000ff" stroke-width="2"/>
<text class="lg" x="170" y="3031">Tp</text>
<g class="tl m"><text x="358" y="3219.1">10/18 12:34</text><text x="960.3" y="3219.1">10/18 12:39</text><text x="1562.5" y="3219.1">10/18 12:44</text></g>
<g class="tl e">
<text x="108" y="3011.9">0.5</text><text x="108" y="3049.9">0.4</text><text x="108" y="3088">0.3</text><text x="108" y="3126">0.2</text><text x="108" y="3164.1">0.1</text><text x="108" y="3202.1">0.0</text>
</g>
<text class="lb" transform="translate(63,3101) rotate(-90)">Tp(10<tspan style="font-size:11px" dy="-6">6</tspan><tspan dy="6">K)</tspan></text>
</svg>
</body></html>
